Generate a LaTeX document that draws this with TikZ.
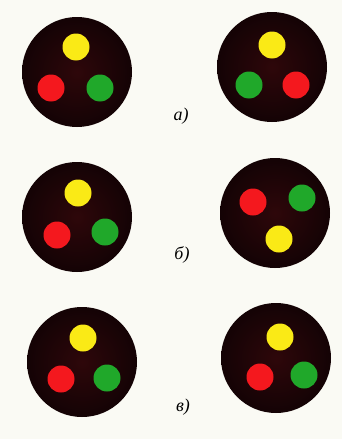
\documentclass[tikz,border=0pt]{standalone}
\usepackage{fontspec}
\newfontfamily\cyrfont{Liberation Serif}
\usetikzlibrary{calc,positioning}
\definecolor{paper}{RGB}{250,250,244}
\definecolor{housing}{RGB}{20,3,5}
\definecolor{housingmid}{RGB}{46,7,10}
\definecolor{sigyellow}{RGB}{250,234,22}
\definecolor{sigred}{RGB}{244,24,30}
\definecolor{siggreen}{RGB}{32,168,42}

\tikzset{
  disc/.style={circle, inner color=housingmid, outer color=housing, minimum size=110pt, inner sep=0pt},
  lamp/.style={circle, minimum size=27pt, inner sep=0pt},
  caption/.style={font=\cyrfont\itshape\fontsize{18}{18}\selectfont, inner sep=0pt},
}

\begin{document}
\begin{tikzpicture}[x=1pt,y=-1pt]
    \fill[paper] (0,0) rectangle (342,439);
    \useasboundingbox (0,0) rectangle (342,439);

    % a)
    \begin{scope}[shift={(77,72)}]
        \node[disc] (d1) at (0,0) {};
        \node[lamp, fill=sigyellow] (y1) at (-1,-25) {};
        \node[lamp, fill=sigred] (r1) at (-26,16) {};
        \node[lamp, fill=siggreen] (g1) at (23,16) {};
    \end{scope}
    \begin{scope}[shift={(272,67)}]
        \node[disc] (d2) at (0,0) {};
        \node[lamp, fill=sigyellow] (y2) at (0,-22) {};
        \node[lamp, fill=siggreen] (g2) at (-23,18) {};
        \node[lamp, fill=sigred] (r2) at (24,18) {};
    \end{scope}
    \node[caption] (la) at (181,116) {а)};

    % b)
    \begin{scope}[shift={(77,217)}]
        \node[disc] (d3) at (0,0) {};
        \node[lamp, fill=sigyellow] (y3) at (1,-24) {};
        \node[lamp, fill=sigred] (r3) at (-20,18) {};
        \node[lamp, fill=siggreen] (g3) at (28,15) {};
    \end{scope}
    \begin{scope}[shift={(275,213)}]
        \node[disc] (d4) at (0,0) {};
        \node[lamp, fill=sigred] (r4) at (-22,-11) {};
        \node[lamp, fill=siggreen] (g4) at (27,-15) {};
        \node[lamp, fill=sigyellow] (y4) at (4,26) {};
    \end{scope}
    \node[caption] (lb) at (182,255) {б)};

    % c)
    \begin{scope}[shift={(82,362)}]
        \node[disc] (d5) at (0,0) {};
        \node[lamp, fill=sigyellow] (y5) at (1,-24) {};
        \node[lamp, fill=sigred] (r5) at (-21,17) {};
        \node[lamp, fill=siggreen] (g5) at (25,16) {};
    \end{scope}
    \begin{scope}[shift={(276,358)}]
        \node[disc] (d6) at (0,0) {};
        \node[lamp, fill=sigyellow] (y6) at (4,-21) {};
        \node[lamp, fill=sigred] (r6) at (-16,19) {};
        \node[lamp, fill=siggreen] (g6) at (28,17) {};
    \end{scope}
    \node[caption] (lc) at (183,407) {в)};
\end{tikzpicture}
\end{document}
